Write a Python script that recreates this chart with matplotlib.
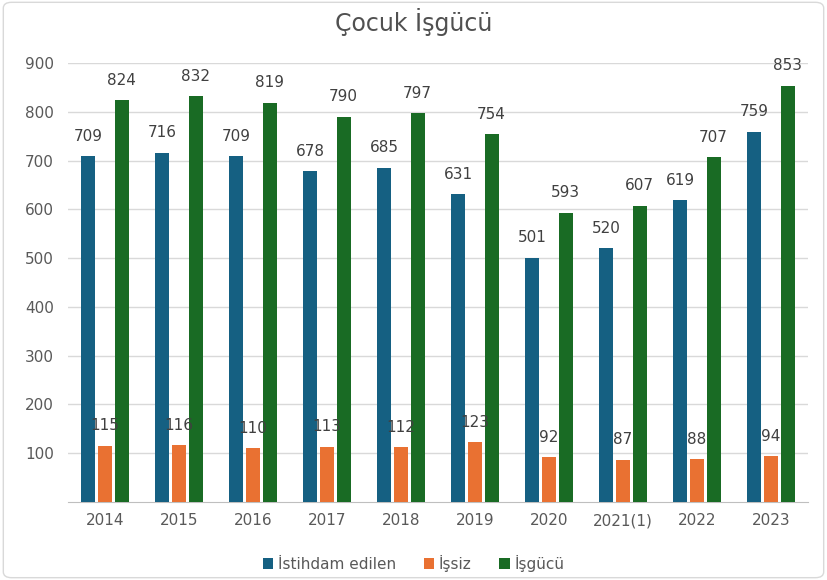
import matplotlib
matplotlib.use("Agg")
import matplotlib.pyplot as plt
import numpy as np
from matplotlib.patches import FancyBboxPatch

years = ["2014", "2015", "2016", "2017", "2018", "2019", "2020", "2021(1)", "2022", "2023"]
istihdam = [709, 716, 709, 678, 685, 631, 501, 520, 619, 759]
issiz = [115, 116, 110, 113, 112, 123, 92, 87, 88, 94]
isgucu = [824, 832, 819, 790, 797, 754, 593, 607, 707, 853]
series_names = ["İstihdam edilen", "İşsiz", "İşgücü"]
colors = ["#156082", "#E97132", "#196B24"]

plt.rcParams['font.family'] = ['DejaVu Sans']
fig = plt.figure(figsize=(8.27, 5.8), dpi=100)
ax = fig.add_axes([68/827, 1 - 502/580, (808-68)/827, (502-63)/580])

x = np.arange(len(years))
w = 0.19
gap = 0.035
offsets = [-(w + gap), 0, (w + gap)]
for vals, off, c, name in zip([istihdam, issiz, isgucu], offsets, colors, series_names):
    ax.bar(x + off, vals, width=w, color=c, label=name, zorder=3)
    for xi, v in zip(x + off, vals):
        ax.annotate(str(v), (xi, v), xytext=(0, 9), textcoords="offset points",
                    ha="center", va="bottom", fontsize=11, color="#404040", zorder=4)

ax.set_xlim(-0.5, len(years) - 0.5)
ax.set_ylim(0, 900)
ax.set_yticks(range(100, 1000, 100))
ax.set_xticks(x)
ax.set_xticklabels(years)
ax.yaxis.grid(True, color="#D9D9D9", linewidth=1, zorder=0)
ax.tick_params(axis="both", length=0, labelsize=11, labelcolor="#595959")
ax.tick_params(axis="x", pad=8)
ax.tick_params(axis="y", pad=10)
for s in ["top", "right", "left"]:
    ax.spines[s].set_visible(False)
ax.spines["bottom"].set_color("#BFBFBF")

fig.suptitle("Çocuk İşgücü", y=1 - 22/580, va="center", fontsize=17, color="#505050")

fig.legend(loc="center", bbox_to_anchor=(0.5, 1 - 563/580), ncol=3, frameon=False,
           fontsize=11, handlelength=0.7, handleheight=0.7, handletextpad=0.3,
           columnspacing=1.8, labelcolor="#595959")

border = FancyBboxPatch((0.004, 0.004), 0.992, 0.992, boxstyle="round,pad=0,rounding_size=0.01",
                        transform=fig.transFigure, fill=False, edgecolor="#D9D9D9", linewidth=1)
fig.patches.append(border)

fig.savefig("out.png", dpi=100)
